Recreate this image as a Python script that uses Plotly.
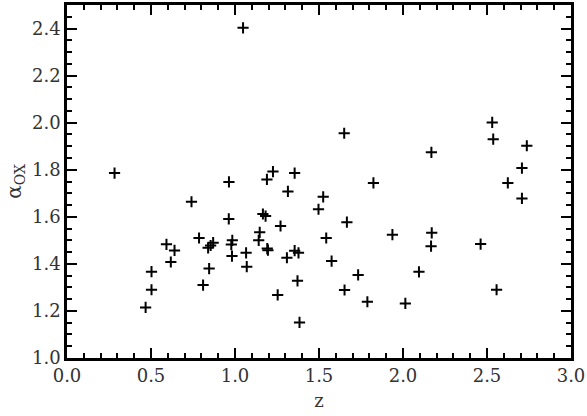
import plotly.graph_objects as go

z = [0.283, 1.048, 0.468, 0.503, 0.503, 0.592, 0.618, 0.640, 0.741, 0.786,
     0.810, 0.840, 0.855, 0.870, 0.846, 0.963, 0.964, 0.984, 0.978, 0.982,
     1.066, 1.070, 1.141, 1.147, 1.166, 1.182, 1.190, 1.226, 1.192, 1.196,
     1.271, 1.254, 1.309, 1.315, 1.355, 1.355, 1.378, 1.372, 1.384, 1.497,
     1.525, 1.543, 1.575, 1.650, 1.666, 1.652, 1.733, 1.788, 1.824, 1.937,
     2.014, 2.095, 2.169, 2.171, 2.167, 2.462, 2.531, 2.537, 2.557, 2.624,
     2.708, 2.708, 2.737]
alpha_ox = [1.786, 2.403, 1.215, 1.290, 1.367, 1.483, 1.408, 1.457, 1.664, 1.510,
            1.310, 1.468, 1.478, 1.490, 1.380, 1.591, 1.748, 1.500, 1.482, 1.433,
            1.447, 1.388, 1.500, 1.534, 1.612, 1.603, 1.759, 1.792, 1.465, 1.458,
            1.561, 1.268, 1.426, 1.708, 1.786, 1.456, 1.447, 1.328, 1.151, 1.632,
            1.685, 1.510, 1.412, 1.955, 1.577, 1.289, 1.353, 1.239, 1.744, 1.524,
            1.232, 1.366, 1.874, 1.532, 1.475, 1.484, 2.001, 1.930, 1.290, 1.744,
            1.807, 1.678, 1.902]

x_range = [0.0, 3.0]
y_range = [1.0, 2.5]

fig = go.Figure()
fig.add_trace(go.Scatter(
    x=z, y=alpha_ox, mode="markers",
    marker=dict(symbol="cross-thin", size=8, color="black",
                line=dict(color="black", width=2)),
    showlegend=False,
))

font = dict(family="DejaVu Serif", size=18, color="#333")

axis_common = dict(
    showline=True, linecolor="black", linewidth=2.5, mirror="allticks",
    ticks="inside", ticklen=10, tickwidth=2, tickcolor="black",
    showgrid=False, zeroline=False, tickfont=font,
    ticklabeloverflow="allow",
)

fig.update_xaxes(range=x_range, dtick=0.5, tick0=0, tickformat=".1f",
                 title=dict(text="z", font=font, standoff=10),
                 minor=dict(dtick=0.1, ticks="inside", ticklen=5, tickwidth=2,
                            tickcolor="black", showgrid=False),
                 **axis_common)
fig.update_yaxes(range=y_range, dtick=0.2, tick0=1.0, tickformat=".1f",
                 title=dict(text="α<sub>OX</sub>", font=dict(family="DejaVu Serif", size=20, color="#333"),
                            standoff=6),
                 minor=dict(dtick=0.05, ticks="inside", ticklen=5, tickwidth=2,
                            tickcolor="black", showgrid=False),
                 **axis_common)

fig.update_layout(
    width=587, height=416,
    margin=dict(l=67, r=15, t=2, b=58),
    plot_bgcolor="white", paper_bgcolor="white",
)

fig.write_html("out.html", config={"displayModeBar": False},
               post_script="document.body.style.margin='0';document.body.style.padding='0';")
